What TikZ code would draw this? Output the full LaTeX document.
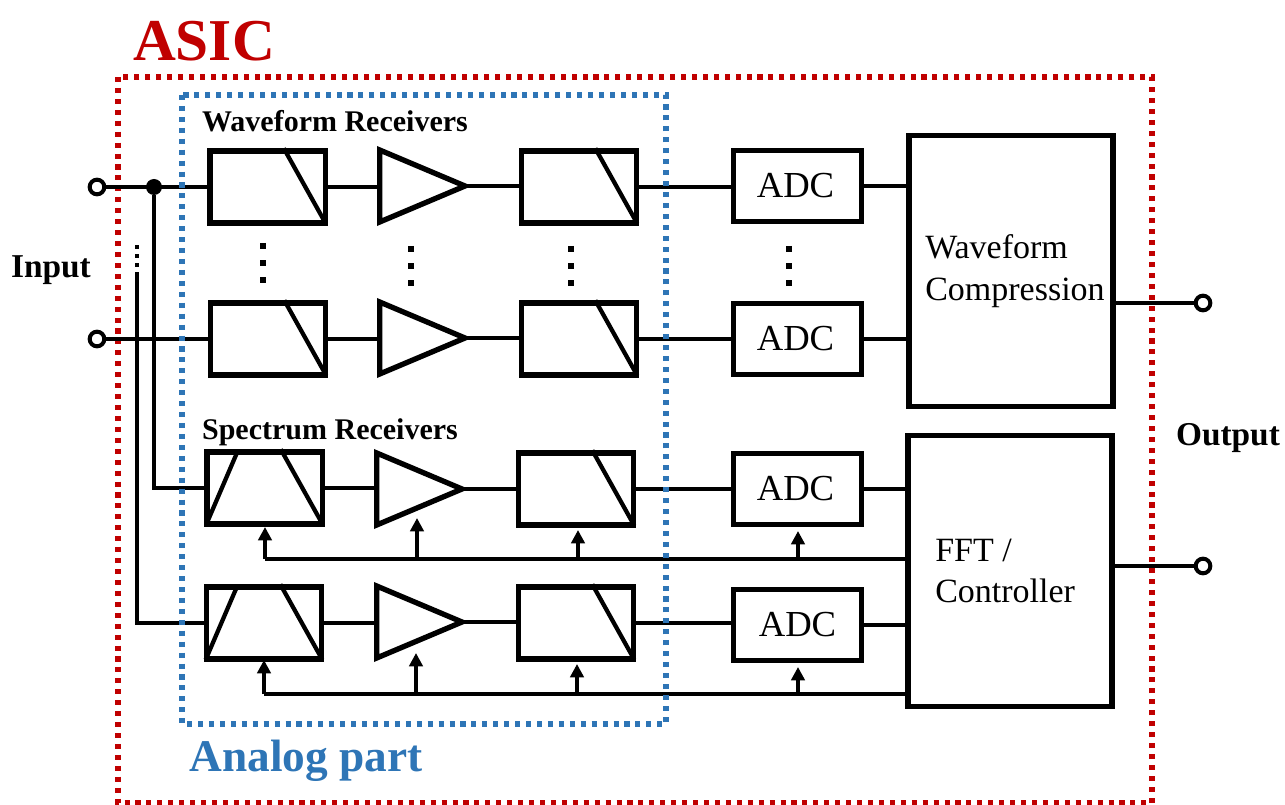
\documentclass[tikz,border=0pt]{standalone}
\usepackage{fontspec}
\setmainfont{Liberation Serif}
\usetikzlibrary{calc,shapes.geometric,arrows.meta}
\tikzset{
  box/.style={draw,line width=4pt,rectangle,inner sep=0pt,minimum width=#1},
  filt/.style={box=86.5pt,minimum height=54pt},
  adcbox/.style={box=96pt,minimum height=53pt,font=\fontsize{27.5}{30}\selectfont},
  big/.style={box=153pt,minimum height=203pt},
  bigtext/.style={font=\fontsize{25.5}{31}\selectfont,align=left,anchor=west,inner sep=0pt},
  amp/.style={draw,line width=4pt,isosceles triangle,isosceles triangle stretches,shape border rotate=0,inner sep=0pt,minimum width=54pt,minimum height=64pt,anchor=lower side},
  wire/.style={line width=3pt},
  slant/.style={line width=3.2pt},
  port/.style={circle,draw,line width=3pt,fill=white,minimum size=11pt,inner sep=0pt},
  junc/.style={circle,fill=black,minimum size=12pt,inner sep=0pt},
  ctrl/.style={line width=3.3pt,-{Triangle[length=10pt,width=10pt]}},
  dotsv/.style={line width=4.5pt,dash pattern=on 4.5pt off 8.3pt},
  title/.style={font=\bfseries\fontsize{22.5}{24}\selectfont,inner sep=0pt},
  side/.style={font=\bfseries\fontsize{25}{28}\selectfont,inner sep=0pt},
}
\newcommand{\LPmark}[1]{\draw[slant] ($(#1.north west)!0.635!(#1.north east)$) -- ($(#1.south east)+(-1.5pt,1.5pt)$);}
\newcommand{\BPmark}[1]{\LPmark{#1}\draw[slant] ($(#1.north west)!0.27!(#1.north east)+(0,-3pt)$) -- ($(#1.south west)+(1.5pt,1.5pt)$);}
\newcommand{\adcT}{\raisebox{-1pt}{ADC\hspace{3pt}}}
\begin{document}
\begin{tikzpicture}[x=0.75pt,y=-0.75pt]
\useasboundingbox (0,0) rectangle (1285,805);
% frames
\draw[line width=3.8pt,color={rgb,255:red,192;green,0;blue,0},dash pattern=on 3.8pt off 4.4pt] (118,77) rectangle (1152,803);
% input ports and nodes
\node[port] (in1) at (97,187) {};
\node[port] (in2) at (97,339) {};
\node[port] (out1) at (1203,303) {};
\node[port] (out2) at (1203,566) {};
% row 1
\node[filt] (f1) at (267.5,187) {};
\node[amp] (a1) at (377,186) {};
\node[filt] (g1) at (579,187) {};
\node[adcbox] (d1) at (797.5,186) {\adcT};
% row 2
\node[filt] (f2) at (268,339) {};
\node[amp] (a2) at (377,338) {};
\node[filt] (g2) at (579,339) {};
\node[adcbox] (d2) at (797.5,339) {\adcT};
% row 3
\node[filt] (f3) at (264.5,488) {};
\node[amp] (a3) at (374,489) {};
\node[filt] (g3) at (576,489) {};
\node[adcbox] (d3) at (797.5,489) {\adcT};
% row 4
\node[filt] (f4) at (264,623) {};
\node[amp] (a4) at (374,622) {};
\node[filt] (g4) at (576,623) {};
\node[adcbox] (d4) at (797.5,625) {ADC};
% back ends
\node[big] (wc) at (1011,271) {};
\node[big] (fc) at (1010,571) {};
\node[bigtext] (wct) at (925,271) {Waveform\\Compression};
\node[bigtext] (fct) at (935,571) {FFT /\\Controller};
\foreach \n in {f1,f2,g1,g2,g3,g4}{\LPmark{\n}}
\foreach \n in {f3,f4}{\BPmark{\n}}
% wires
\coordinate (j1) at (154,187);
\node[junc] (jn) at (j1) {};
\draw[wire] (in1) -- (f1.west);
\draw[wire] (in2) -- (f2.west);
\foreach \r in {1,2,3,4}{
  \draw[wire] (f\r.east) -- (f\r.east -| a\r.lower side);
  \draw[wire] ($(a\r.apex)+(-6pt,0)$) -- (a\r.apex -| g\r.west);
  \draw[wire] (g\r.east) -- (g\r.east -| d\r.west);
}
\draw[wire] (d1.east) -- (d1.east -| wc.west);
\draw[wire] (d2.east) -- (d2.east -| wc.west);
\draw[wire] (d3.east) -- (d3.east -| fc.west);
\draw[wire] (d4.east) -- (d4.east -| fc.west);
\draw[wire] (wc.east |- out1) -- (out1);
\draw[wire] (fc.east |- out2) -- (out2);
\draw[wire] (jn) |- (f3.west);
\coordinate (t4) at (137,276);
\draw[wire] (t4) |- (f4.west);
\draw[line width=3pt,dash pattern=on 3pt off 3.75pt] (t4) -- (137,243);
% control buses
\coordinate (b3) at (265,559);
\coordinate (b4) at (264,694);
\draw[wire] (b3) -- (b3 -| fc.west);
\draw[wire] (b4) -- (b4 -| fc.west);
\draw[ctrl] (b3) -- (265,527);
\draw[ctrl] (417,559) -- (417,518);
\draw[ctrl] (578,559) -- (578,530);
\draw[ctrl] (798,559) -- (798,531);
\draw[ctrl] (b4) -- (264,660);
\draw[ctrl] (416,694) -- (416,653);
\draw[ctrl] (577,694) -- (577,664);
\draw[ctrl] (798,694) -- (798,667);
% analog frame on top
\draw[line width=3.8pt,color={rgb,255:red,46;green,117;blue,182},dash pattern=on 3.8pt off 4.4pt] (182,95) rectangle (666,724);
% dots
\draw[dotsv] (263,243) -- (263,284);
\draw[dotsv] (411,246) -- (411,287);
\draw[dotsv] (571,246) -- (571,287);
\draw[dotsv] (789,246) -- (789,287);
% labels
\node[font=\bfseries\fontsize{44.5}{46}\selectfont,text={rgb,255:red,192;green,0;blue,0},inner sep=0pt] (asic) at (204,41) {ASIC};
\node[font=\bfseries\fontsize{34}{36}\selectfont,text={rgb,255:red,46;green,117;blue,182},inner sep=0pt] (apart) at (306,761) {Analog part};
\node[title] (wr) at (335,121) {Waveform Receivers};
\node[title] (sr) at (330,432) {Spectrum Receivers};
\node[side] (inl) at (51,270) {Input};
\node[side] (outl) at (1228,438) {Output};
\end{tikzpicture}
\end{document}
